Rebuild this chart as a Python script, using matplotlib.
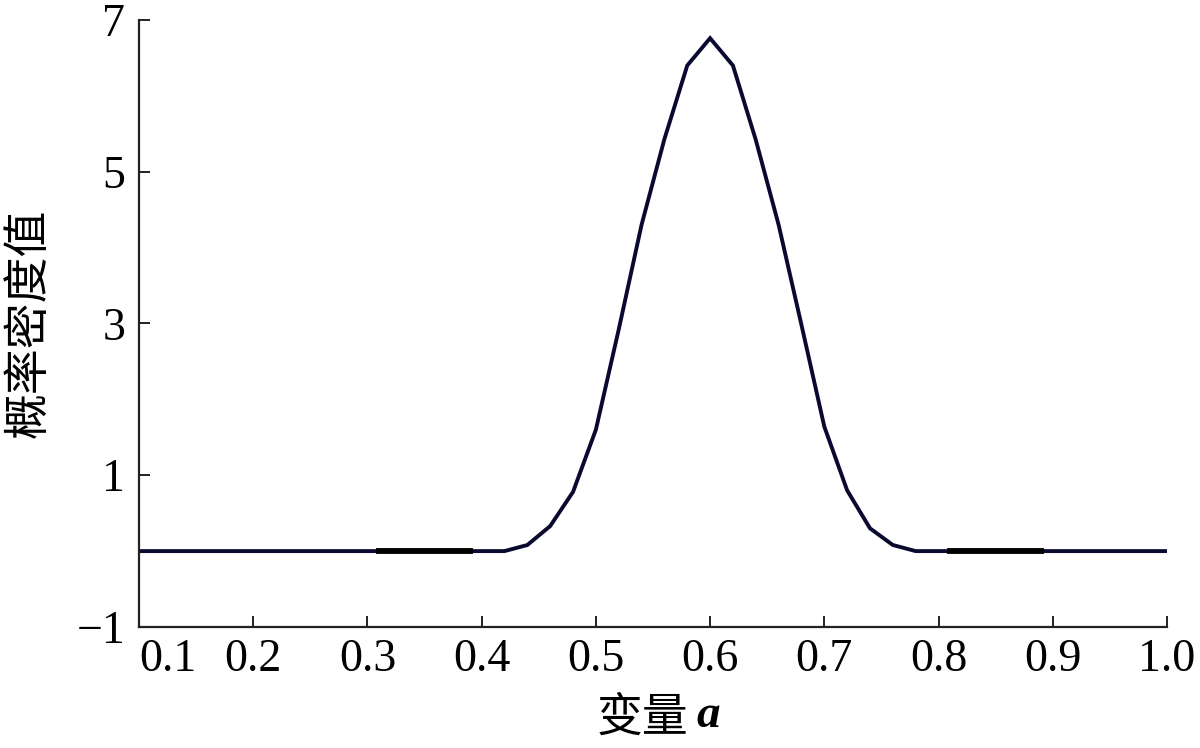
import matplotlib
matplotlib.use("Agg")
import matplotlib.pyplot as plt

# values
a = [0.10, 0.42, 0.44, 0.46, 0.48, 0.50, 0.52, 0.54, 0.56, 0.58, 0.60,
     0.62, 0.64, 0.66, 0.68, 0.70, 0.72, 0.74, 0.76, 0.78, 1.00]
density = [0.0, 0.0, 0.08, 0.33, 0.78, 1.60, 2.92, 4.30, 5.43, 6.40, 6.76,
           6.40, 5.42, 4.30, 2.98, 1.64, 0.80, 0.30, 0.08, 0.0, 0.0]

# short thicker pieces lying on the zero line
seg1_a = [0.31, 0.39]
seg2_a = [0.81, 0.89]
seg_y = [0.0, 0.0]

xticks = [0.1, 0.2, 0.3, 0.4, 0.5, 0.6, 0.7, 0.8, 0.9, 1.0]
xticklabels = ["0.1", "0.2", "0.3", "0.4", "0.5", "0.6", "0.7", "0.8", "0.9", "1.0"]
yticks = [-1, 1, 3, 5, 7]
yticklabels = ["\u22121", "1", "3", "5", "7"]

XLABEL = "变量"
XVAR = "a"
YLABEL = "概率密度值"
LINECOLOR = "#0a0a30"

plt.rcParams["font.family"] = ["Liberation Serif", "Noto Sans CJK SC"]

fig = plt.figure(figsize=(12, 7.48), dpi=100)
ax = fig.add_axes([0.1158, 0.1618, 0.8567, 0.8115])

ax.plot(a, density, color=LINECOLOR, linewidth=2.8, solid_joinstyle="miter")
ax.plot(seg1_a, seg_y, color="black", linewidth=4.2)
ax.plot(seg2_a, seg_y, color="black", linewidth=4.2)

ax.set_xlim(0.1, 1.0)
ax.set_ylim(-1, 7)

for side in ["top", "right"]:
    ax.spines[side].set_visible(False)
for side in ["left", "bottom"]:
    ax.spines[side].set_linewidth(1.6)
    ax.spines[side].set_color("#222222")

ax.set_xticks(xticks)
ax.set_xticklabels(xticklabels)
ax.set_yticks(yticks)
ax.set_yticklabels(yticklabels)
ax.tick_params(axis="both", direction="in", length=8, width=1.4,
               labelsize=33, color="#222222", pad=8)
ax.tick_params(axis="y", pad=10)
ax.get_xticklabels()[0].set_horizontalalignment("left")

xl = ax.set_xlabel(XLABEL, fontsize=33, labelpad=12,
                   family=["Noto Sans CJK SC", "DejaVu Sans"])
ax.xaxis.set_label_coords(0.49, -0.11)
ax.annotate(XVAR, xy=(1, 0), xycoords=xl, xytext=(6, 4),
            textcoords="offset points", ha="left", va="bottom",
            fontsize=34, fontweight="bold", fontstyle="italic",
            family="Liberation Serif")
ax.set_ylabel(YLABEL, fontsize=33, labelpad=18)

plt.savefig("out.png", dpi=100)
